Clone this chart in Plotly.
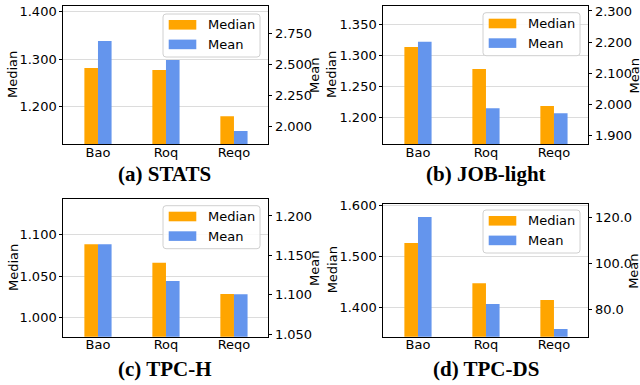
import plotly.graph_objects as go

W, H = 640, 385

categories = ["Bao", "Roq", "Reqo"]

stats_median = [1.2815, 1.2773, 1.180]
stats_mean = [2.688, 2.535, 1.965]
job_median = [1.313, 1.2775, 1.218]
job_mean = [2.201, 1.987, 1.971]
tpch_median = [1.088, 1.066, 1.0284]
tpch_mean = [1.164, 1.1173, 1.1004]
tpcds_median = [1.5255, 1.4465, 1.4137]
tpcds_mean = [120.1, 82.3, 71.4]

titles = ["(a) STATS", "(b) JOB-light", "(c) TPC-H", "(d) TPC-DS"]

ORANGE = "#FFA500"
BLUE = "#6495ED"

# panel configuration: pixel box (left, top, right, bottom), axis ranges, tick steps
panels = [
    dict(med=stats_median, mean=stats_mean, box=(63.3, 6, 268.3, 144),
         lr=[1.1215, 1.412], ld=0.1, rr=[1.861, 2.969], rd=0.25, rf=".3f",
         title_xy=(164, 173.5), legtop=8, ylab_x=13, mlab_x=314),
    dict(med=job_median, mean=job_mean, box=(383.3, 6, 588.3, 144),
         lr=[1.157, 1.379], ld=0.05, rr=[1.872, 2.316], rd=0.1, rf=".3f",
         title_xy=(485.5, 173.5), legtop=6.7, ylab_x=332, mlab_x=633.5),
    dict(med=tpch_median, mean=tpch_mean, box=(63.3, 199.3, 268.3, 336.7),
         lr=[0.9772, 1.142], ld=0.05, rr=[1.0466, 1.2212], rd=0.05, rf=".3f",
         title_xy=(165, 368.5), legtop=6.4, ylab_x=13, mlab_x=314),
    dict(med=tpcds_median, mean=tpcds_mean, box=(383.3, 204, 588.3, 336.7),
         lr=[1.3418, 1.602], ld=0.1, rr=[68.1, 125.8], rd=20, rf=".1f",
         title_xy=(485.5, 368.5), legtop=6, ylab_x=332, mlab_x=633.5),
]

def px(x):
    return x / W

def py(y):
    return 1 - y / H

fig = go.Figure()
shapes = []
annotations = []
tickfont = dict(family="DejaVu Sans", size=13, color="black")

for i, p in enumerate(panels):
    n = i + 1
    xa = "x" if n == 1 else f"x{n}"
    yl_idx = 2 * i + 1
    yr_idx = 2 * i + 2
    yl = "y" if yl_idx == 1 else f"y{yl_idx}"
    yr = f"y{yr_idx}"
    L, T, R, B = p["box"]

    fig.add_trace(go.Bar(x=categories, y=p["med"], xaxis=xa, yaxis=yl,
                         marker=dict(color=ORANGE, line=dict(width=0)),
                         offset=-0.2, width=0.2, name="Median", showlegend=False))
    fig.add_trace(go.Bar(x=categories, y=p["mean"], xaxis=xa, yaxis=yr,
                         marker=dict(color=BLUE, line=dict(width=0)),
                         offset=0.0, width=0.2, name="Mean", showlegend=False))

    xkey = "xaxis" if n == 1 else f"xaxis{n}"
    ylkey = "yaxis" if yl_idx == 1 else f"yaxis{yl_idx}"
    yrkey = f"yaxis{yr_idx}"

    fig.layout[xkey] = dict(domain=[px(L), px(R)], anchor=yl, range=[-0.51, 2.505],
                            showline=True, linecolor="black", linewidth=1, mirror=True,
                            ticks="", tickfont=tickfont, showgrid=False, zeroline=False,
                            ticklabelstandoff=-4,
                            automargin=False, fixedrange=True)
    fig.layout[ylkey] = dict(domain=[py(B), py(T)], anchor=xa, range=p["lr"],
                             dtick=p["ld"], tick0=0, tickformat=".3f",
                             showline=True, linecolor="black", linewidth=1,
                             ticks="outside", ticklen=3, tickcolor="black",
                             tickfont=tickfont, showgrid=True, gridcolor="#dcdcdc",
                             gridwidth=1, zeroline=False, automargin=False)
    fig.layout[yrkey] = dict(overlaying=yl, anchor=xa, side="right", range=p["rr"],
                             dtick=p["rd"], tick0=0, tickformat=p["rf"],
                             showline=True, linecolor="black", linewidth=1,
                             ticks="outside", ticklen=3, tickcolor="black",
                             tickfont=tickfont, showgrid=False, zeroline=False,
                             automargin=False)

    # axis titles
    annotations.append(dict(text="Median", x=px(p["ylab_x"]), y=py((T + B) / 2),
                            xref="paper", yref="paper", textangle=-90, showarrow=False,
                            xanchor="center", yanchor="middle",
                            font=dict(family="DejaVu Sans", size=13, color="black")))
    annotations.append(dict(text="Mean", x=px(p["mlab_x"]), y=py((T + B) / 2 + 1),
                            xref="paper", yref="paper", textangle=-90, showarrow=False,
                            xanchor="center", yanchor="middle",
                            font=dict(family="DejaVu Sans", size=13, color="black")))
    # subplot caption
    tx, ty = p["title_xy"]
    annotations.append(dict(text=f"<b>{titles[i]}</b>", x=px(tx), y=py(ty),
                            xref="paper", yref="paper", showarrow=False,
                            xanchor="center", yanchor="middle",
                            font=dict(family="Liberation Serif", size=21, color="black")))

    # legend box (drawn like a matplotlib legend)
    bR = R - 8.3
    bL = bR - 97
    bT = T + p["legtop"]
    bB = bT + 43
    r = 3
    path = (f"M {px(bL + r)} {py(bT)} L {px(bR - r)} {py(bT)} "
            f"Q {px(bR)} {py(bT)} {px(bR)} {py(bT + r)} "
            f"L {px(bR)} {py(bB - r)} Q {px(bR)} {py(bB)} {px(bR - r)} {py(bB)} "
            f"L {px(bL + r)} {py(bB)} Q {px(bL)} {py(bB)} {px(bL)} {py(bB - r)} "
            f"L {px(bL)} {py(bT + r)} Q {px(bL)} {py(bT)} {px(bL + r)} {py(bT)} Z")
    shapes.append(dict(type="path", path=path, xref="paper", yref="paper",
                       fillcolor="rgba(255,255,255,0.85)",
                       line=dict(color="#d0d0d0", width=1), layer="above"))
    for k, (lab, col) in enumerate([("Median", ORANGE), ("Mean", BLUE)]):
        cy = bT + 10.8 + k * 19.6
        shapes.append(dict(type="rect", xref="paper", yref="paper",
                           x0=px(bL + 5.7), x1=px(bL + 33.3),
                           y0=py(cy + 4.8), y1=py(cy - 4.8),
                           fillcolor=col, line=dict(width=0), layer="above"))
        annotations.append(dict(text=lab, x=px(bL + 43), y=py(cy),
                                xref="paper", yref="paper", showarrow=False,
                                xanchor="left", yanchor="middle",
                                font=dict(family="DejaVu Sans", size=13, color="black")))

fig.update_layout(width=W, height=H, margin=dict(l=0, r=0, t=0, b=0),
                  paper_bgcolor="white", plot_bgcolor="white",
                  barmode="overlay", showlegend=False,
                  shapes=shapes, annotations=annotations)

fig.write_html("out.html", config={"displayModeBar": False},
               post_script="document.body.style.margin='0px';document.body.style.overflow='hidden';")
